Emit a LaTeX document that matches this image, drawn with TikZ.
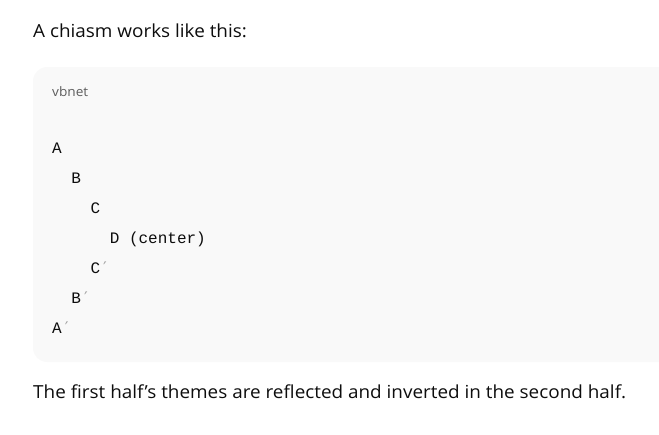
\documentclass[tikz,border=0pt]{standalone}
\usepackage{fontspec}
\setmainfont{Open Sans}[Ligatures=NoCommon, FakeStretch=1.05]
\setmonofont{Liberation Mono}
\newfontfamily\primefont{DejaVu Sans Mono}
\usetikzlibrary{positioning}

\definecolor{ink}{HTML}{0D0D0D}
\definecolor{codebg}{HTML}{F9F9F9}
\definecolor{langgray}{HTML}{5D5D5D}
\definecolor{primegray}{HTML}{A0A0A0}
\newcommand{\pr}{{\primefont\color{primegray}′}}

\begin{document}
\begin{tikzpicture}[x=1pt, y=-1pt,
	body/.style = {anchor = base west, inner sep = 0pt, text = ink, font = \fontsize{18}{22}\selectfont},
	codeline/.style = {anchor = base west, inner sep = 0pt, text = ink, font = \ttfamily\fontsize{16}{20}\selectfont}]
	\useasboundingbox (0,0) rectangle (659,434);
	\fill[codebg, rounded corners = 14pt] (33,67) rectangle (690,362);
	\node[body] (title) at (33,37) {A chiasm works like this:};
	\node[anchor = base west, inner sep = 0pt, text = langgray, font = \fontsize{13}{16}\selectfont] (lang) at (52,96) {vbnet};
	\foreach \name/\txt/\col/\row in {a/A/0/0, b/B/2/1, c/C/4/2, d/D (center)/6/3, cp/C\pr/4/4, bp/B\pr/2/5, ap/A\pr/0/6}
		\node[codeline] (\name) at (52+9.6*\col, 153+30*\row) {\txt};
	\node[body] (summary) at (33,398) {The first half’s themes are reflected and inverted in the second half.};
\end{tikzpicture}
\end{document}
